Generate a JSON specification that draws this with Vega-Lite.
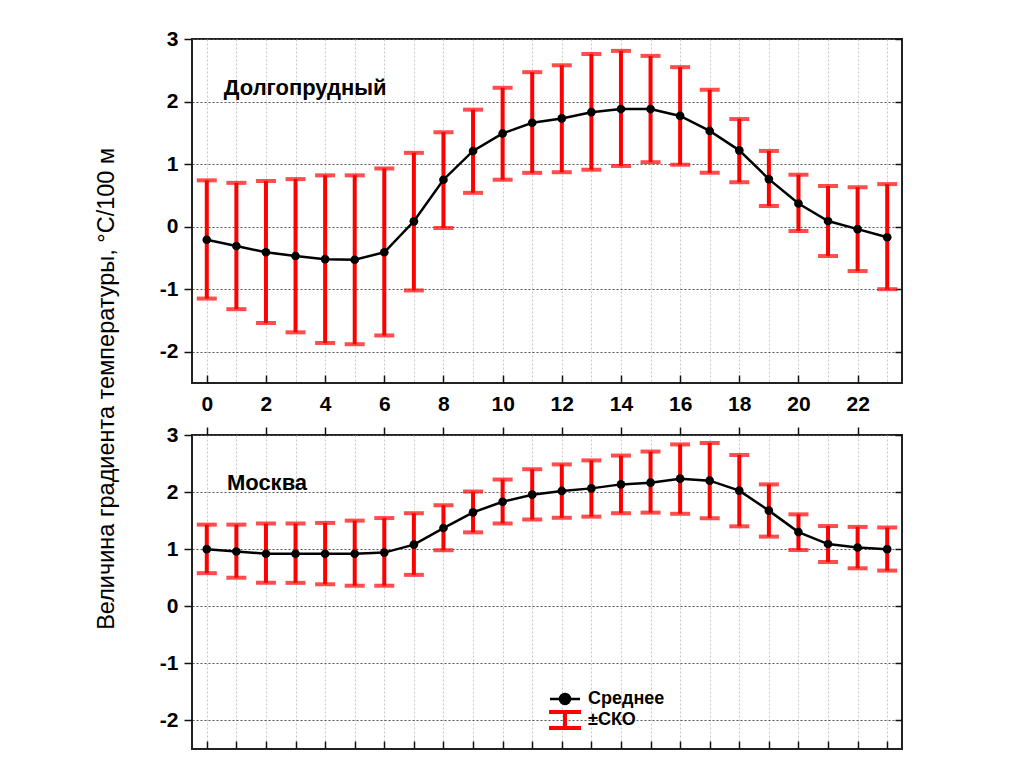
{
  "$schema": "https://vega.github.io/schema/vega-lite/v6.json",
  "background": "white",
  "padding": {"left": 94, "top": 27, "right": 5, "bottom": 5},
  "title": {
    "text": "Величина градиента температуры, °С/100 м",
    "orient": "left",
    "anchor": "middle",
    "font": "Liberation Sans",
    "fontSize": 23.5,
    "fontWeight": "normal",
    "color": "black",
    "offset": 40
  },
  "datasets": {
    "dolg": [
      {"hour": 0, "mean": -0.21, "lo": -1.15, "hi": 0.74},
      {"hour": 1, "mean": -0.31, "lo": -1.32, "hi": 0.70},
      {"hour": 2, "mean": -0.41, "lo": -1.54, "hi": 0.73},
      {"hour": 3, "mean": -0.47, "lo": -1.69, "hi": 0.76},
      {"hour": 4, "mean": -0.52, "lo": -1.86, "hi": 0.82},
      {"hour": 5, "mean": -0.53, "lo": -1.88, "hi": 0.82},
      {"hour": 6, "mean": -0.41, "lo": -1.74, "hi": 0.93},
      {"hour": 7, "mean": 0.085, "lo": -1.02, "hi": 1.18},
      {"hour": 8, "mean": 0.75, "lo": -0.02, "hi": 1.51},
      {"hour": 9, "mean": 1.21, "lo": 0.54, "hi": 1.87},
      {"hour": 10, "mean": 1.49, "lo": 0.75, "hi": 2.22},
      {"hour": 11, "mean": 1.66, "lo": 0.86, "hi": 2.47},
      {"hour": 12, "mean": 1.73, "lo": 0.87, "hi": 2.58},
      {"hour": 13, "mean": 1.83, "lo": 0.91, "hi": 2.76},
      {"hour": 14, "mean": 1.88, "lo": 0.97, "hi": 2.81},
      {"hour": 15, "mean": 1.88, "lo": 1.03, "hi": 2.73},
      {"hour": 16, "mean": 1.77, "lo": 0.99, "hi": 2.55},
      {"hour": 17, "mean": 1.53, "lo": 0.86, "hi": 2.19},
      {"hour": 18, "mean": 1.22, "lo": 0.71, "hi": 1.72},
      {"hour": 19, "mean": 0.76, "lo": 0.33, "hi": 1.21},
      {"hour": 20, "mean": 0.37, "lo": -0.07, "hi": 0.83},
      {"hour": 21, "mean": 0.09, "lo": -0.47, "hi": 0.65},
      {"hour": 22, "mean": -0.04, "lo": -0.71, "hi": 0.63},
      {"hour": 23, "mean": -0.17, "lo": -1.00, "hi": 0.68}
    ],
    "msk": [
      {"hour": 0, "mean": 1.00, "lo": 0.58, "hi": 1.43},
      {"hour": 1, "mean": 0.96, "lo": 0.50, "hi": 1.43},
      {"hour": 2, "mean": 0.92, "lo": 0.41, "hi": 1.45},
      {"hour": 3, "mean": 0.92, "lo": 0.41, "hi": 1.45},
      {"hour": 4, "mean": 0.92, "lo": 0.385, "hi": 1.46},
      {"hour": 5, "mean": 0.92, "lo": 0.36, "hi": 1.50},
      {"hour": 6, "mean": 0.94, "lo": 0.36, "hi": 1.545},
      {"hour": 7, "mean": 1.08, "lo": 0.55, "hi": 1.63},
      {"hour": 8, "mean": 1.37, "lo": 0.98, "hi": 1.77},
      {"hour": 9, "mean": 1.645, "lo": 1.295, "hi": 2.01},
      {"hour": 10, "mean": 1.83, "lo": 1.45, "hi": 2.22},
      {"hour": 11, "mean": 1.955, "lo": 1.52, "hi": 2.40},
      {"hour": 12, "mean": 2.02, "lo": 1.55, "hi": 2.485},
      {"hour": 13, "mean": 2.065, "lo": 1.57, "hi": 2.555},
      {"hour": 14, "mean": 2.135, "lo": 1.63, "hi": 2.64},
      {"hour": 15, "mean": 2.165, "lo": 1.64, "hi": 2.71},
      {"hour": 16, "mean": 2.235, "lo": 1.62, "hi": 2.835},
      {"hour": 17, "mean": 2.20, "lo": 1.54, "hi": 2.86},
      {"hour": 18, "mean": 2.025, "lo": 1.40, "hi": 2.65},
      {"hour": 19, "mean": 1.675, "lo": 1.22, "hi": 2.135},
      {"hour": 20, "mean": 1.30, "lo": 0.985, "hi": 1.61},
      {"hour": 21, "mean": 1.09, "lo": 0.775, "hi": 1.405},
      {"hour": 22, "mean": 1.03, "lo": 0.665, "hi": 1.39},
      {"hour": 23, "mean": 1.00, "lo": 0.625, "hi": 1.38}
    ]
  },
  "spacing": 8,
  "resolve": {"scale": {"color": "independent"}},
  "vconcat": [
    {
      "width": 710,
      "height": 344,
      "data": {"name": "dolg"},
      "resolve": {"axis": {"x": "independent", "y": "independent"}},
      "layer": [
        {
          "mark": {"type": "rule", "strokeWidth": 4},
          "encoding": {
            "x": {"field": "hour", "type": "quantitative",
              "scale": {"domain": [-0.5, 23.5], "nice": false, "zero": false},
              "axis": {"orient": "bottom", "title": null, "values": [0,1,2,3,4,5,6,7,8,9,10,11,12,13,14,15,16,17,18,19,20,21,22,23],
                "labelExpr": "datum.value % 2 === 0 ? datum.label : ''", "labelOverlap": false, "labelFlush": false,
                "tickSize": -8, "labelPadding": 18,
                "tickOpacity": {"condition": {"test": "datum.value % 2 === 0", "value": 1}, "value": 0},
                "grid": true, "gridColor": "#c8c8c8", "gridDash": [2, 2], "gridWidth": 1}},
            "y": {"field": "lo", "type": "quantitative",
              "scale": {"domain": [-2.5, 3], "nice": false, "zero": false},
              "axis": {"orient": "left", "title": null, "values": [-2, -1, 0, 1, 2, 3], "labelExpr": "'' + datum.value", "tickSize": 8, "labelPadding": 6,
                "grid": true, "gridColor": "#555555", "gridDash": [2, 2], "gridWidth": 1}},
            "y2": {"field": "hi"},
            "color": {"datum": "±СКО", "type": "nominal", "scale": {"domain": ["Среднее", "±СКО"], "range": ["black", "red"]}, "legend": null}
          }
        },
        {
          "mark": {"type": "tick", "orient": "horizontal", "size": 20, "thickness": 4},
          "encoding": {
            "x": {"field": "hour", "type": "quantitative", "axis": null},
            "y": {"field": "lo", "type": "quantitative", "axis": null},
            "color": {"datum": "±СКО", "type": "nominal", "legend": null}
          }
        },
        {
          "mark": {"type": "tick", "orient": "horizontal", "size": 20, "thickness": 4},
          "encoding": {
            "x": {"field": "hour", "type": "quantitative", "axis": null},
            "y": {"field": "hi", "type": "quantitative", "axis": null},
            "color": {"datum": "±СКО", "type": "nominal", "legend": null}
          }
        },
        {
          "mark": {"type": "line", "strokeWidth": 2.5},
          "encoding": {
            "x": {"field": "hour", "type": "quantitative", "axis": null},
            "y": {"field": "mean", "type": "quantitative",
              "axis": {"orient": "right", "title": null, "values": [-2, -1, 0, 1, 2, 3], "labels": false, "tickSize": -7, "grid": false}},
            "color": {"datum": "Среднее", "type": "nominal", "legend": null}
          }
        },
        {
          "mark": {"type": "point", "filled": true, "size": 75, "opacity": 1},
          "encoding": {
            "x": {"field": "hour", "type": "quantitative", "axis": null},
            "y": {"field": "mean", "type": "quantitative", "axis": null},
            "color": {"datum": "Среднее", "type": "nominal", "legend": null}
          }
        },
        {
          "data": {"values": [{}]},
          "mark": {"type": "text", "text": "Долгопрудный", "align": "left", "baseline": "middle", "font": "Liberation Sans", "fontSize": 22, "fontWeight": "bold", "color": "black"},
          "encoding": {
            "x": {"datum": 0.575, "type": "quantitative", "axis": null},
            "y": {"datum": 2.21, "type": "quantitative", "axis": null}
          }
        }
      ]
    },
    {
      "width": 710,
      "height": 314,
      "data": {"name": "msk"},
      "resolve": {"axis": {"x": "independent", "y": "independent"}},
      "layer": [
        {
          "mark": {"type": "rule", "strokeWidth": 4},
          "encoding": {
            "x": {"field": "hour", "type": "quantitative",
              "scale": {"domain": [-0.5, 23.5], "nice": false, "zero": false},
              "axis": {"orient": "bottom", "title": null, "values": [0,1,2,3,4,5,6,7,8,9,10,11,12,13,14,15,16,17,18,19,20,21,22,23],
                "labels": false, "tickSize": -8,
                "grid": true, "gridColor": "#c8c8c8", "gridDash": [2, 2], "gridWidth": 1}},
            "y": {"field": "lo", "type": "quantitative",
              "scale": {"domain": [-2.5, 3], "nice": false, "zero": false},
              "axis": {"orient": "left", "title": null, "values": [-2, -1, 0, 1, 2, 3], "labelExpr": "'' + datum.value", "tickSize": 8, "labelPadding": 6,
                "grid": true, "gridColor": "#555555", "gridDash": [2, 2], "gridWidth": 1}},
            "y2": {"field": "hi"},
            "color": {"datum": "±СКО", "type": "nominal", "scale": {"domain": ["Среднее", "±СКО"], "range": ["black", "red"]}}
          }
        },
        {
          "mark": {"type": "tick", "orient": "horizontal", "size": 20, "thickness": 4},
          "encoding": {
            "x": {"field": "hour", "type": "quantitative", "axis": null},
            "y": {"field": "lo", "type": "quantitative", "axis": null},
            "color": {"datum": "±СКО", "type": "nominal"}
          }
        },
        {
          "mark": {"type": "tick", "orient": "horizontal", "size": 20, "thickness": 4},
          "encoding": {
            "x": {"field": "hour", "type": "quantitative", "axis": null},
            "y": {"field": "hi", "type": "quantitative", "axis": null},
            "color": {"datum": "±СКО", "type": "nominal"}
          }
        },
        {
          "mark": {"type": "line", "strokeWidth": 2.5},
          "encoding": {
            "x": {"field": "hour", "type": "quantitative",
              "axis": {"orient": "top", "title": null, "values": [0,2,4,6,8,10,12,14,16,18,20,22], "labels": false, "tickSize": 8, "grid": false}},
            "y": {"field": "mean", "type": "quantitative",
              "axis": {"orient": "right", "title": null, "values": [-2, -1, 0, 1, 2, 3], "labels": false, "tickSize": -7, "grid": false}},
            "color": {"datum": "Среднее", "type": "nominal",
              "legend": {
                "orient": "none", "legendX": 364, "legendY": 255, "title": null,
                "padding": 0, "symbolSize": 400, "labelOffset": 14, "rowPadding": -5,
                "labelFont": "Liberation Sans", "labelFontSize": 18, "labelFontWeight": "bold", "labelColor": "black",
                "encode": {"symbols": {"update": {
                  "shape": {"signal": "datum.value === 'Среднее' ? 'M-1.5,0H1.5M0.5,0A0.5,0.5,0,1,1,-0.5,0A0.5,0.5,0,1,1,0.5,0Z' : 'M-1.6,-0.8H1.6M0,-0.8V0.8M-1.6,0.8H1.6'"},
                  "fill": {"signal": "datum.value === 'Среднее' ? 'black' : 'transparent'"},
                  "stroke": {"signal": "datum.value === 'Среднее' ? 'black' : 'red'"},
                  "strokeWidth": {"signal": "datum.value === 'Среднее' ? 2.5 : 4"},
                  "opacity": {"value": 1}
                }}}
              }}
          }
        },
        {
          "mark": {"type": "point", "filled": true, "size": 75, "opacity": 1},
          "encoding": {
            "x": {"field": "hour", "type": "quantitative", "axis": null},
            "y": {"field": "mean", "type": "quantitative", "axis": null},
            "color": {"datum": "Среднее", "type": "nominal"}
          }
        },
        {
          "data": {"values": [{}]},
          "mark": {"type": "text", "text": "Москва", "align": "left", "baseline": "middle", "font": "Liberation Sans", "fontSize": 22, "fontWeight": "bold", "color": "black"},
          "encoding": {
            "x": {"datum": 0.68, "type": "quantitative", "axis": null},
            "y": {"datum": 2.16, "type": "quantitative", "axis": null}
          }
        }
      ]
    }
  ],
  "config": {
    "font": "Liberation Sans",
    "view": {"stroke": "#222222", "strokeWidth": 2},
    "axis": {
      "labelFont": "Liberation Sans", "labelFontSize": 21, "labelFontWeight": "bold", "labelColor": "black",
      "tickColor": "#111111", "tickWidth": 1.5, "domain": false
    }
  }
}
